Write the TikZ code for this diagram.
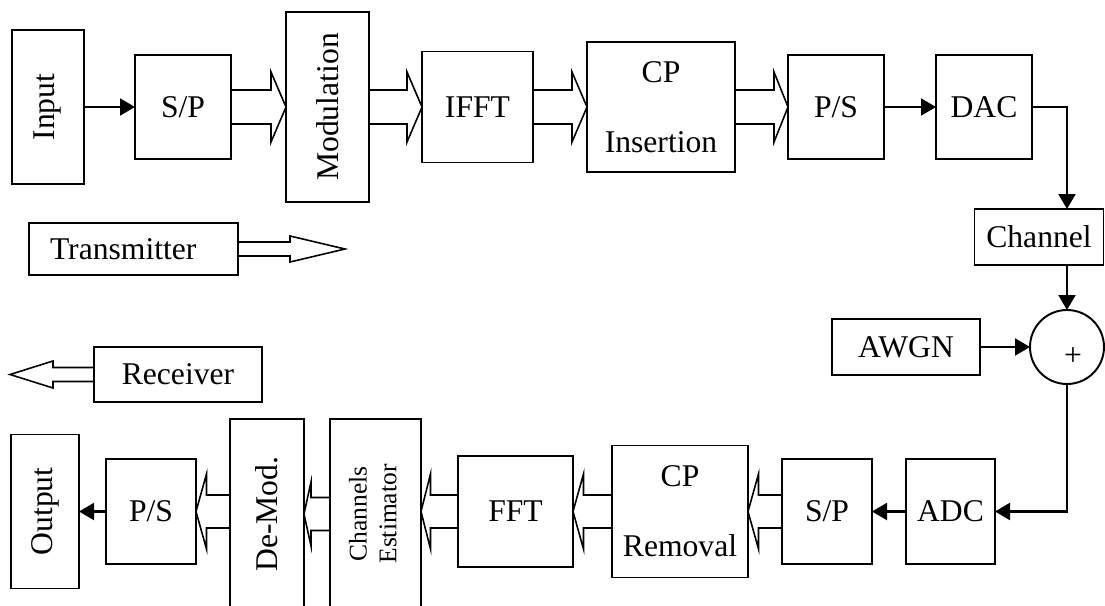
\documentclass[tikz,border=0pt]{standalone}
\usepackage{fontspec}
\setmainfont{Liberation Serif}
\usetikzlibrary{arrows.meta,positioning,calc}
\tikzset{
  block/.style={
    draw=black,
    line width=1.1pt,
    inner sep=0pt,
    outer sep=0pt,
    align=center,
    font=\fontsize{18}{21.6}\selectfont
  },
  sumnode/.style={
    draw=black,
    line width=1.1pt,
    circle,
    minimum size=1.48cm,
    inner sep=0pt,
    outer sep=0pt
  },
  flowarrow/.style={-{Triangle[length=3mm,width=3.4mm]},line width=1.2pt,draw=black},
  fatline/.style={draw=black,line width=0.9pt,line join=miter}
}
\newcommand{\fatarrow}[5]{%
  \coordinate (fathead) at ($(#2)!#5!(#1)$);
  \draw[fatline] ($(#1)!#3!90:(#2)$) -- ($(fathead)!#3!-90:(#1)$)
    -- ($(fathead)!#4!-90:(#1)$) -- (#2) -- ($(fathead)!#4!90:(#1)$)
    -- ($(fathead)!#3!90:(#1)$) -- ($(#1)!#3!-90:(#2)$);
}

\begin{document}
\begin{tikzpicture}[node distance=1.04cm]
\useasboundingbox (0,0) rectangle (22.1,-12.12);
\node[block,minimum width=1.44cm,minimum height=3.08cm] (input) at (0.96,-2.14) {\rotatebox{90}{Input}};
\node[block,minimum width=1.92cm,minimum height=2.08cm,right=1.02cm of input] (sptx) {S/P};
\node[block,minimum width=1.66cm,minimum height=3.8cm,right=1.1cm of sptx] (mod) {\rotatebox{90}{Modulation}};
\node[block,minimum width=2.22cm,minimum height=2.22cm,right=1.06cm of mod] (ifft) {IFFT};
\node[block,minimum width=2.96cm,minimum height=2.6cm,right=1.08cm of ifft] (cpins) {CP\\[0.64cm]Insertion};
\node[block,minimum width=1.92cm,minimum height=2.08cm,right=1.06cm of cpins] (pstx) {P/S};
\node[block,minimum width=1.92cm,minimum height=2.08cm,right=of pstx] (dac) {DAC};

\node[sumnode,label={[font=\fontsize{18}{21.6}\selectfont,shift={(0.12,-0.2)}]center:+}] (sum) at (21.34,-6.94) {};
\node[block,minimum width=2.58cm,minimum height=1.12cm,above=0.9cm of sum,xshift=-0.56cm] (channel) {Channel};
\node[block,minimum width=2.96cm,minimum height=1.12cm,left=1.0cm of sum] (awgn) {AWGN};

\node[block,minimum width=1.78cm,minimum height=2.1cm] (adc) at (19.01,-10.23) {ADC};
\node[block,minimum width=1.8cm,minimum height=2.1cm,left=0.68cm of adc] (sprx) {S/P};
\node[block,minimum width=2.72cm,minimum height=2.64cm,left=0.68cm of sprx] (cprem) {CP\\[0.64cm]Removal};
\node[block,minimum width=2.3cm,minimum height=2.22cm,left=0.78cm of cprem] (fft) {FFT};
\node[block,minimum width=1.82cm,minimum height=3.8cm,left=0.74cm of fft,yshift=-0.05cm] (chest) {\rotatebox{90}{\fontsize{14.5}{17}\selectfont\begin{tabular}{@{}c@{}}Channels\\Estimator\end{tabular}}};
\node[block,minimum width=1.48cm,minimum height=3.8cm,left=0.52cm of chest] (demod) {\rotatebox{90}{De-Mod.}};
\node[block,minimum width=1.8cm,minimum height=2.1cm,left=0.68cm of demod,yshift=0.05cm] (psrx) {P/S};
\node[block,minimum width=1.36cm,minimum height=3.08cm,left=0.54cm of psrx] (output) {\rotatebox{90}{Output}};

\node[block,text width=3.34cm,align=left,inner xsep=0.42cm,minimum height=1.04cm] (tx) at (2.67,-4.98) {Transmitter};
\node[block,minimum width=3.36cm,minimum height=1.1cm] (rx) at (3.56,-7.49) {Receiver};
\coordinate (txtip) at ($(tx.east)+(2.14,0)$);
\coordinate (rxtip) at ($(rx.west)+(-1.68,0)$);

\draw[flowarrow] (input) -- (sptx);
\fatarrow{sptx.east}{mod.west}{0.34cm}{0.7cm}{0.3cm}
\fatarrow{mod.east}{ifft.west}{0.34cm}{0.7cm}{0.3cm}
\fatarrow{ifft.east}{cpins.west}{0.34cm}{0.7cm}{0.3cm}
\fatarrow{cpins.east}{pstx.west}{0.34cm}{0.7cm}{0.28cm}
\draw[flowarrow] (pstx) -- (dac);
\draw[flowarrow] (dac.east) -| (channel.north -| sum);
\draw[flowarrow] (channel.south -| sum) -- (sum);
\draw[flowarrow] (awgn) -- (sum);
\draw[flowarrow] (sum) |- (adc);
\draw[flowarrow] (adc) -- (sprx);
\fatarrow{sprx.west}{cprem.east}{0.33cm}{0.75cm}{0.21cm}
\fatarrow{cprem.west}{fft.east}{0.33cm}{0.75cm}{0.21cm}
\fatarrow{fft.west}{chest.east |- fft.west}{0.33cm}{0.75cm}{0.19cm}
\fatarrow{chest.west}{demod.east}{0.33cm}{0.64cm}{0.14cm}
\fatarrow{demod.west |- psrx.east}{psrx.east}{0.33cm}{0.75cm}{0.21cm}
\draw[flowarrow] (psrx) -- (output);

\fatarrow{tx.east}{txtip}{0.14cm}{0.26cm}{1.1cm}
\fatarrow{rx.west}{rxtip}{0.14cm}{0.27cm}{0.86cm}
\end{tikzpicture}
\end{document}
